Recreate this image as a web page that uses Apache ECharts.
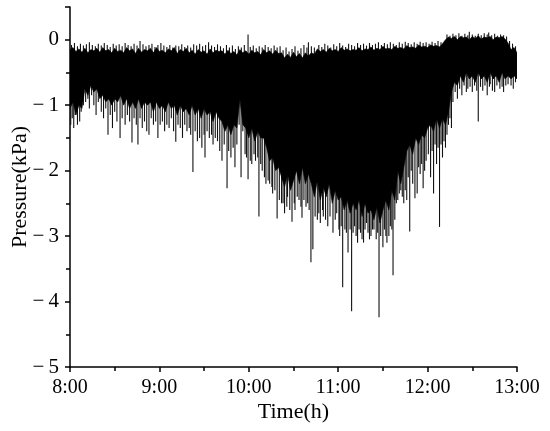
<!DOCTYPE html>
<html>
<head>
<meta charset="utf-8">
<script src="https://cdn.jsdelivr.net/npm/echarts@6/dist/echarts.min.js"></script>
<style>
html,body{margin:0;padding:0;background:#fff;}
#chart{width:550px;height:431px;}
</style>
</head>
<body>
<div id="chart"></div>
<script>
// Time in minutes after 8:00; band sampled every 2 minutes (0..300)
var timeStepMin = 2;
var xTickLabels = ['8:00', '9:00', '10:00', '11:00', '12:00', '13:00'];
var yTickLabels = ['0', '\u2212\u20091', '\u2212\u20092', '\u2212\u20093', '\u2212\u20094', '\u2212\u20095'];

// Upper edge of the solid signal band (kPa)
var bandTop = [
  -0.15,-0.12,-0.18,-0.14,-0.19,-0.13,-0.2,-0.15,-0.17,-0.13,
  -0.19,-0.12,-0.17,-0.15,-0.2,-0.13,-0.18,-0.16,-0.2,-0.12,
  -0.17,-0.14,-0.21,-0.13,-0.19,-0.15,-0.17,-0.13,-0.2,-0.12,
  -0.18,-0.16,-0.2,-0.14,-0.17,-0.12,-0.21,-0.15,-0.18,-0.13,
  -0.2,-0.16,-0.22,-0.15,-0.19,-0.17,-0.22,-0.14,-0.2,-0.16,
  -0.18,
  -0.17,-0.22,-0.16,-0.21,-0.18,-0.23,-0.15,-0.2,-0.17,-0.22,
  -0.16,-0.2,-0.18,-0.23,-0.15,-0.2,-0.17,-0.22,-0.16,-0.21,
  -0.2,-0.28,-0.22,-0.27,-0.19,-0.26,-0.21,-0.28,-0.2,-0.25,-0.2,-0.22,
  -0.14,-0.18,-0.15,-0.19,-0.13,-0.17,-0.15,-0.18,-0.12,-0.16,
  -0.14,-0.17,-0.15,-0.16,-0.12,-0.17,-0.14,-0.15,-0.11,-0.16,
  -0.13,-0.15,-0.1,-0.14,-0.13,-0.15,-0.1,-0.13,-0.12,-0.14,
  -0.09,-0.12,-0.11,-0.13,-0.08,-0.11,-0.1,-0.12,-0.08,-0.1,
  -0.09,-0.11,-0.06,
  0.0,0.04,0.02,0.05,0.0,0.05,0.03,0.04,0.0,0.05,
  0.02,0.06,0.01,0.04,0.03,0.05,0.0,0.04,0.03,0.05,0.01,
  -0.05,-0.15,-0.12,-0.2
];

// Lower edge of the solid signal band (kPa)
var bandBottom = [
  -1.05,-0.95,-1.15,-1.0,-1.05,
  -0.75,-0.85,-0.7,-0.8,-0.75,-0.9,
  -0.85,-0.95,-0.9,-1.0,-0.9,-0.95,-0.85,-1.0,-0.9,-1.05,
  -0.95,-1.05,-0.9,-1.05,-0.95,-1.0,-0.95,-1.1,-0.95,-1.05,
  -1.0,-1.1,-0.95,-1.05,-1.0,-1.15,-1.0,-1.1,-1.05,-1.15,
  -1.0,-1.15,-1.05,-1.2,-1.05,-1.15,-1.1,-1.25,-1.1,-1.2,
  -1.25,-1.4,-1.3,-1.45,-1.3,-1.35,
  -0.9,-1.3,
  -1.35,-1.5,-1.35,-1.55,-1.4,-1.5,-1.5,
  -1.65,-1.85,-1.8,-2.0,-1.95,
  -2.1,-2.25,-2.05,-2.3,-2.15,
  -2.0,-2.2,-1.95,-2.2,-2.05,
  -2.2,-2.4,-2.15,-2.45,-2.25,-2.4,-2.2,-2.5,-2.3,-2.45,
  -2.4,-2.6,-2.45,-2.65,-2.5,-2.6,-2.45,-2.7,-2.5,-2.65,
  -2.6,-2.75,-2.55,-2.8,-2.6,
  -2.45,-2.6,-2.3,-2.45,
  -2.0,-2.2,-1.95,
  -1.7,-1.6,-1.75,-1.5,-1.6,-1.45,-1.5,-1.35,
  -1.3,-1.4,-1.2,-1.35,-1.2,-1.3,-1.1,
  -0.8,-0.65,-0.7,
  -0.55,-0.65,-0.5,-0.6,-0.55,-0.65,-0.5,-0.6,-0.55,-0.65,
  -0.5,-0.6,-0.55,-0.65,-0.5,-0.6,-0.55,
  -0.6,-0.55,-0.6
];

// Downward spikes: [minutes after 8:00, minimum pressure kPa]
var downSpikes = [
  [0.5,-1.3],[1.5,-1.2],[2.5,-1.35],[3.5,-1.15],[5,-1.3],[6.5,-1.25],[7.5,-1.1],[9,-1.0],
  [10.5,-0.95],[12,-0.9],[13,-1.05],[14.5,-0.85],[16,-1.0],[17.5,-1.15],[19,-0.95],
  [21,-1.1],[22.5,-1.2],[24,-1.05],[25.5,-1.45],[27,-1.15],[28.5,-1.35],[30,-1.1],[31.5,-1.25],
  [33.6,-1.5],[35,-1.2],[37,-1.3],[38.5,-1.15],
  [40,-1.25],[41.6,-1.57],[43,-1.2],[44.5,-1.3],[45.6,-1.6],[47,-1.2],[48.5,-1.35],[50,-1.25],
  [51.5,-1.4],[53,-1.45],[54.5,-1.2],[56,-1.3],[57.5,-1.25],[59,-1.5],
  [60.5,-1.3],[62,-1.25],[63.5,-1.4],[65,-1.3],[66.5,-1.35],[68,-1.2],[69.5,-1.4],[71,-1.56],
  [72.5,-1.3],[74,-1.35],[75.5,-1.5],[77,-1.3],[78.5,-1.4],[80,-1.35],
  [81,-1.45],[82.5,-2.02],[84,-1.4],[85.5,-1.55],[87,-1.5],[88.5,-1.65],[90,-1.45],[90.6,-1.8],
  [92,-1.4],[93.5,-1.5],[95,-1.45],[96,-1.6],[97.5,-1.5],[99,-1.55],
  [100.5,-1.7],[102,-1.85],[103.5,-1.6],[105.4,-2.27],[106.5,-1.7],[108,-1.8],[109.5,-1.65],
  [110.7,-1.95],[112,-1.6],[113.5,-1.3],[114.8,-2.1],[116,-1.4],
  [117.5,-1.75],[118.5,-1.8],[119.5,-2.13],[121,-1.85],[122,-1.9],[123.5,-1.75],[124.5,-1.85],
  [126,-1.8],[126.8,-2.7],[128,-1.9],[129,-2.0],
  [130.5,-2.1],[131.5,-2.2],[133,-2.15],[134,-2.2],[135.5,-2.25],[136,-2.35],[137.5,-2.3],[139,-2.73],
  [140.5,-2.45],[142,-2.5],[143,-2.5],[144,-2.65],[145.5,-2.55],[146,-2.4],[147.5,-2.6],[149,-2.78],
  [150.5,-2.5],[151,-2.6],[152.5,-2.4],[153.7,-2.45],[155,-2.55],[155.7,-2.72],[157,-2.45],
  [158.4,-2.55],[159.5,-2.5],
  [160.5,-2.6],[161.7,-3.4],[163,-3.2],[164.5,-2.7],[166,-2.75],[167,-2.65],[168,-2.8],[169.5,-2.6],
  [170,-2.7],[171.5,-2.75],[173,-2.85],[174.5,-2.7],[176.5,-2.95],[178,-2.75],[179,-2.65],
  [180.5,-2.9],[181,-3.0],[182,-2.85],[183,-3.78],[184.5,-2.9],[185.5,-2.95],[186.6,-3.25],
  [188,-2.9],[189,-4.15],[190,-2.95],[191,-2.85],[192,-3.0],[193,-3.1],[194,-2.9],[195,-2.95],
  [196,-3.05],[197,-3.1],[198,-2.9],[199,-2.8],[200,-2.95],
  [201,-3.05],[202,-3.0],[203,-2.9],[204,-2.9],[205.5,-3.05],[206.5,-2.95],[207.4,-4.24],
  [208.5,-3.0],[210,-3.17],[211,-2.9],[212,-3.0],[212.7,-3.1],[214,-3.0],[215,-2.85],[216,-2.9],
  [216.8,-3.6],[218,-2.75],
  [219,-2.5],[220,-2.45],[221,-2.35],[222,-2.3],[223,-2.4],[224,-2.5],[225,-2.3],[226,-2.45],
  [227,-2.1],[228,-2.93],[229,-2.0],[230,-2.2],[231.5,-2.42],[233,-2.35],[234,-1.95],[235,-2.05],
  [236,-1.9],[237,-2.27],[238,-2.0],[239,-1.85],
  [240.5,-1.75],[242,-2.1],[243,-1.7],[244,-2.35],[245,-1.6],[246,-1.9],[247,-1.65],[248,-2.86],
  [249,-1.6],[250,-1.8],[251,-1.55],[252,-1.65],
  [253,-1.45],[254,-1.3],[255,-1.2],[256,-1.35],
  [257,-0.95],[258.5,-0.8],[260,-0.9],[261.5,-0.75],[263,-0.85],[264.5,-0.7],[266,-0.8],[267,-0.75],
  [268.5,-0.72],[270,-0.8],[271.5,-0.7],[273,-0.78],[274,-1.25],[275.5,-0.72],[277,-0.78],
  [278.5,-0.7],[280,-0.85],[281.5,-0.72],[282,-0.68],[283.5,-0.78],[285,-0.8],[286.5,-0.7],
  [288.5,-0.75],[290,-0.72],[291,-0.8],[292.5,-0.7],[294,-0.68],
  [296,-0.7],[297.5,-0.75],[299,-0.65]
];

// Upward spikes: [minutes after 8:00, maximum pressure kPa]
var upSpikes = [
  [1,-0.08],[3,-0.05],[5,-0.1],[7,-0.06],[9,-0.09],[11,-0.07],[13,-0.04],[15,-0.08],[17,-0.1],
  [19,-0.06],[21,-0.09],[23,-0.05],[25,-0.08],[27,-0.11],[29,-0.06],[31,-0.09],[33,-0.07],
  [35,-0.1],[37,-0.05],[39,-0.08],[41,-0.1],[43,-0.06],[45,-0.09],[47,-0.02],[49,-0.07],
  [51,-0.1],[53,-0.08],[55,-0.06],[57,-0.11],[59,-0.08],[61,-0.05],[63,-0.09],[65,-0.11],
  [67,-0.08],[69,-0.12],[71,-0.09],[73,-0.1],[75,-0.07],[77,-0.11],[79,-0.09],[81,-0.12],
  [83,-0.07],[85,-0.09],[87,-0.06],[89,-0.1],[91,-0.08],[93,-0.04],[95,-0.09],[97,-0.11],[99,-0.07],
  [101,-0.1],[103,-0.13],[105,-0.08],[107,-0.12],[109,-0.09],[111,-0.14],[113,-0.1],[115,-0.12],
  [117,-0.08],[119.5,0.08],[121,-0.11],[123,-0.09],[125,-0.13],[127,-0.1],[129,-0.12],[131,-0.08],
  [133,-0.11],[135,-0.13],[137,-0.09],[139,-0.12],[141,-0.1],
  [143,-0.16],[145,-0.12],[147,-0.18],[149,-0.14],[151,-0.1],[153,-0.17],[155,-0.13],[157,-0.08],
  [159,-0.12],[160,-0.04],[162,-0.1],[164,-0.12],
  [167,-0.08],[169,-0.11],[171,-0.06],[173,-0.09],[175,-0.12],[177,-0.07],[179,-0.1],[181,-0.05],
  [183,-0.09],[185,-0.11],[187,-0.06],[189,-0.08],[191,-0.1],[193,-0.05],[195,-0.08],[197,-0.06],
  [199,-0.09],[201,-0.05],[203,-0.08],[205,-0.06],[207,-0.04],[209,-0.08],[211,-0.05],[213,-0.07],
  [215,-0.04],[217,-0.06],[219,-0.08],[221,-0.04],[223,-0.06],[225,-0.03],[227,-0.05],[229,-0.07],
  [231,-0.04],[233,-0.06],[235,-0.03],[237,-0.05],[239,-0.04],[241,-0.06],[243,-0.03],[245,-0.05],
  [247,-0.02],[249,-0.04],
  [253,0.08],[255,0.06],[257,0.09],[259,0.07],[261,0.1],[263,0.06],[265,0.09],[267,0.07],[268,0.12],
  [270,0.08],[272,0.06],[274,0.09],[276,0.07],[278,0.1],[280,0.08],[281,0.11],[283,0.07],[285,0.09],
  [287,0.06],[289,0.08],[291,0.07],[293,0.05],
  [295,-0.02],[297,-0.06],[299,-0.1]
];

var FONT = "'Liberation Serif','Times New Roman',serif";

var bandPoints = [];
for (var i = 0; i < bandTop.length; i++) bandPoints.push([i * timeStepMin, bandTop[i], bandBottom[i]]);

function spikeRender(params, api) {
  var t = api.value(0);
  var p1 = api.coord([t, -0.3]);
  var p2 = api.coord([t, api.value(1)]);
  return {type: 'line', shape: {x1: p1[0], y1: p1[1], x2: p2[0], y2: p2[1]},
    style: {stroke: '#111', lineWidth: 1.1}};
}

var chart = echarts.init(document.getElementById('chart'), null, {renderer: 'canvas'});

chart.setOption({
  animation: false,
  backgroundColor: '#fff',
  grid: {left: 70, right: 33, top: 7, bottom: 64, containLabel: false, outerBoundsMode: 'none'},
  xAxis: {
    type: 'value', min: 0, max: 300, interval: 60,
    name: 'Time(h)', nameLocation: 'middle', nameGap: 34, nameMoveOverlap: false,
    nameTextStyle: {fontFamily: FONT, fontSize: 22, color: '#000'},
    axisLine: {show: true, onZero: false, lineStyle: {color: '#000', width: 1.5}},
    axisTick: {show: true, inside: false, length: 5, lineStyle: {color: '#000', width: 1.5}},
    minorTick: {show: true, splitNumber: 2, length: 4, lineStyle: {color: '#000', width: 1.5}},
    axisLabel: {
      fontFamily: FONT, fontSize: 20, color: '#000', margin: 11,
      formatter: function (v) { return xTickLabels[Math.round(v / 60)] || ''; }
    },
    splitLine: {show: false}
  },
  yAxis: {
    type: 'value', min: -5, max: 0.5, interval: 1,
    name: 'Pressure(kPa)', nameLocation: 'middle', nameGap: 39, nameRotate: 90, nameMoveOverlap: false,
    nameTextStyle: {fontFamily: FONT, fontSize: 22, color: '#000'},
    axisLine: {show: true, onZero: false, lineStyle: {color: '#000', width: 1.5}},
    axisTick: {show: true, inside: false, length: 5, lineStyle: {color: '#000', width: 1.5}},
    minorTick: {show: true, splitNumber: 2, length: 4, lineStyle: {color: '#000', width: 1.5}},
    axisLabel: {
      fontFamily: FONT, fontSize: 21, color: '#000', margin: 11,
      formatter: function (v) {
        if (Math.abs(v - Math.round(v)) > 1e-6) return '';
        return yTickLabels[-Math.round(v)] || '';
      }
    },
    splitLine: {show: false}
  },
  series: [
    {type: 'custom', name: 'downSpikes', z: 1, clip: true, data: downSpikes, renderItem: spikeRender},
    {type: 'custom', name: 'upSpikes', z: 1, clip: true, data: upSpikes, renderItem: spikeRender},
    {
      type: 'custom', name: 'band', z: 2, clip: true,
      data: [0],
      renderItem: function (params, api) {
        var pts = [];
        var k;
        for (k = 0; k < bandPoints.length; k++) pts.push(api.coord([bandPoints[k][0], bandPoints[k][1]]));
        for (k = bandPoints.length - 1; k >= 0; k--) pts.push(api.coord([bandPoints[k][0], bandPoints[k][2]]));
        return {type: 'polygon', shape: {points: pts},
          style: {fill: '#000', stroke: '#000', lineWidth: 0.6}};
      }
    }
  ]
});
</script>
</body>
</html>
